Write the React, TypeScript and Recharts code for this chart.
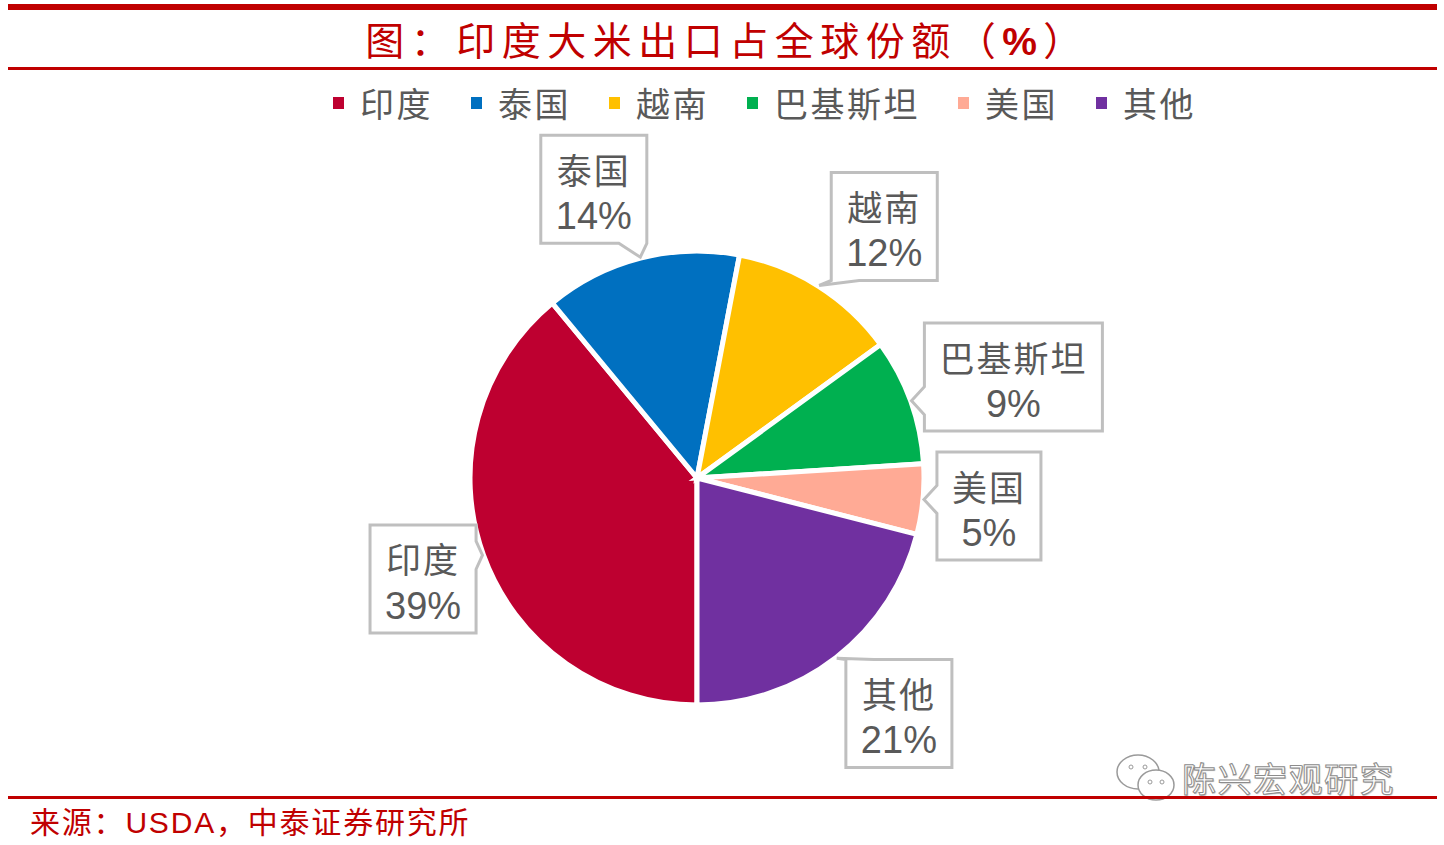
import { Cell, Pie, PieChart } from "recharts";

const names = ["印度", "泰国", "越南", "巴基斯坦", "美国", "其他"];
const shares = [39, 14, 12, 9, 5, 21];
const colors = ["#BE0030", "#0070C0", "#FFC000", "#00B050", "#FFAA95", "#7030A0"];

const data = names.map((name, i) => ({ name, value: shares[i] }));

const RED = "#C00000";
const GRAY = "#595959";
const CJK = '"Noto Sans CJK SC", "Noto Sans", sans-serif';
const NUM = '"Liberation Sans", Arial, sans-serif';
const RAD = Math.PI / 180;

const clamp = (v: number, lo: number, hi: number) => Math.max(lo, Math.min(hi, v));

function numWidth(s: string, size: number) {
  let w = 0;
  for (const ch of s) w += ch === "%" ? 0.889 * size : 0.556 * size;
  return w;
}

// callout box in the style of an Excel data callout
function renderCallout(props: any) {
  const { cx, cy, midAngle, outerRadius, index } = props;
  const name = names[index];
  const pct = `${shares[index]}%`;
  const ux = Math.cos(midAngle * RAD);
  const uy = -Math.sin(midAngle * RAD);

  const w = Math.max(name.length * 37, numWidth(pct, 38)) + 30;
  const h = 108;
  // tip of the pointer sits on the rim of the slice
  const tx = cx + (outerRadius + 1) * ux;
  const ty = cy + (outerRadius + 1) * uy;
  const bx = tx + Math.sign(ux) * (w / 2) + 10 * ux + 3 + (uy < 0 ? 8 * (1 - Math.abs(ux)) : 0);
  const by = ty + uy * (h / 2) + 16 * uy;
  const left = bx - w / 2;
  const right = bx + w / 2;
  const top = by - h / 2;
  const bottom = by + h / 2;

  let edge: "top" | "right" | "bottom" | "left";
  const inX = tx >= left && tx <= right;
  const inY = ty >= top && ty <= bottom;
  if (inY && !inX) edge = tx < left ? "left" : "right";
  else if (inX && !inY) edge = ty < top ? "top" : "bottom";
  else if (Math.abs(ux) * h > Math.abs(uy) * w) edge = tx < left ? "left" : "right";
  else edge = ty < top ? "top" : "bottom";

  const half = 14;
  const pts: [number, number][] = [];
  const hc = clamp(tx, left + half, right - half);
  const vc = clamp(ty, top + half, bottom - half);
  pts.push([left, top]);
  if (edge === "top") pts.push([hc - half, top], [tx, ty], [hc + half, top]);
  pts.push([right, top]);
  if (edge === "right") pts.push([right, vc - half], [tx, ty], [right, vc + half]);
  pts.push([right, bottom]);
  if (edge === "bottom") pts.push([hc + half, bottom], [tx, ty], [hc - half, bottom]);
  pts.push([left, bottom]);
  if (edge === "left") pts.push([left, vc + half], [tx, ty], [left, vc - half]);
  const d = pts.map((p, i) => `${i ? "L" : "M"}${p[0]},${p[1]}`).join(" ") + " Z";

  return (
    <g key={`callout-${index}`}>
      <path d={d} fill="#fff" stroke="#BFBFBF" strokeWidth={3} strokeLinejoin="miter" />
      <text
        x={bx}
        y={by - 21}
        textAnchor="middle"
        dominantBaseline="central"
        fontFamily={CJK}
        fontSize={35}
        letterSpacing={2}
        fill={GRAY}
      >
        {name}
      </text>
      <text
        x={bx}
        y={by + 27}
        textAnchor="middle"
        dominantBaseline="central"
        fontFamily={NUM}
        fontSize={38}
        fill={GRAY}
      >
        {pct}
      </text>
    </g>
  );
}

function LegendRow() {
  return (
    <div style={{ position: "absolute", left: 333, top: 81, display: "flex", alignItems: "center" }}>
      {names.map((n, i) => (
        <div key={n} style={{ display: "flex", alignItems: "center", marginRight: 38 }}>
          <span style={{ width: 11, height: 12, background: colors[i], marginRight: 16, display: "inline-block" }} />
          <span style={{ fontFamily: CJK, fontSize: 34, letterSpacing: 2.5, color: GRAY, lineHeight: "44px" }}>{n}</span>
        </div>
      ))}
    </div>
  );
}

function WeChatIcon() {
  return (
    <svg width={70} height={60} style={{ position: "absolute", left: 1110, top: 748 }}>
      <ellipse cx={28} cy={24} rx={21} ry={17} fill="#fff" stroke="#9A9A9A" strokeWidth={1.5} />
      <circle cx={21} cy={19} r={2} fill="#fff" stroke="#9A9A9A" />
      <circle cx={35} cy={19} r={2} fill="#fff" stroke="#9A9A9A" />
      <ellipse cx={46} cy={37} rx={18} ry={15} fill="#fff" stroke="#9A9A9A" strokeWidth={1.5} />
      <circle cx={40} cy={34} r={2} fill="#fff" stroke="#9A9A9A" />
      <circle cx={52} cy={34} r={2} fill="#fff" stroke="#9A9A9A" />
    </svg>
  );
}

export default function App() {
  const line = (top: number, height: number) => (
    <div style={{ position: "absolute", left: 8, top, width: 1429, height, background: RED }} />
  );
  return (
    <div style={{ position: "absolute", left: 0, top: 0, width: 1444, height: 845, background: "#fff", overflow: "hidden" }}>
      {line(4, 6)}
      <div
        style={{
          position: "absolute",
          left: 12,
          top: 12,
          width: 1430,
          textAlign: "center",
          fontFamily: CJK,
          fontSize: 39,
          letterSpacing: 6.5,
          color: RED,
          lineHeight: "52px",
        }}
      >
        图：印度大米出口占全球份额（<span style={{ fontFamily: NUM, fontWeight: 700 }}>%</span>）
      </div>
      {line(67, 3)}

      <LegendRow />

      <div style={{ position: "absolute", left: 0, top: 0 }}>
        <PieChart width={1444} height={845} margin={{ top: 0, right: 0, bottom: 0, left: 0 }}>
          <Pie
            data={data}
            dataKey="value"
            nameKey="name"
            cx={697}
            cy={478}
            outerRadius={227}
            startAngle={-90}
            endAngle={-450}
            stroke="#fff"
            strokeWidth={5}
            label={renderCallout}
            labelLine={false}
            isAnimationActive={false}
          >
            {data.map((d, i) => (
              <Cell key={d.name} fill={colors[i]} />
            ))}
          </Pie>
        </PieChart>
      </div>

      <WeChatIcon />
      <div
        style={{
          position: "absolute",
          left: 1182,
          top: 756,
          fontFamily: CJK,
          fontSize: 34,
          letterSpacing: 1.5,
          color: "#fff",
          WebkitTextStroke: "1px #8C8C8C",
          textShadow: "1px 1px 1px #BBB",
          lineHeight: "44px",
        }}
      >
        陈兴宏观研究
      </div>
      {line(796, 3)}
      <div
        style={{
          position: "absolute",
          left: 30,
          top: 800,
          fontFamily: CJK,
          fontSize: 30,
          letterSpacing: 1.8,
          color: RED,
          lineHeight: "40px",
        }}
      >
        来源：<span style={{ fontFamily: NUM }}>USDA</span>，中泰证券研究所
      </div>
    </div>
  );
}
